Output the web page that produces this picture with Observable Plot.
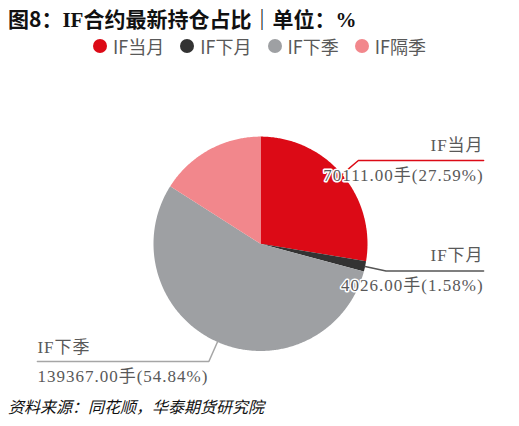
<!DOCTYPE html>
<html>
<head>
<meta charset="utf-8">
<script src="https://cdn.jsdelivr.net/npm/d3@7"></script>
<script src="https://cdn.jsdelivr.net/npm/@observablehq/plot@0.6"></script>
<style>
  html, body { margin: 0; padding: 0; background: #fff; }
  #wrap { position: relative; width: 519px; height: 426px; overflow: hidden; }
  #title { position: absolute; left: 8px; top: 3px; font-size: 21px; font-weight: bold; color: #111; white-space: nowrap; font-family: "Noto Sans CJK SC", sans-serif; }
  #title .s { font-family: "Liberation Serif", serif; }
  #legend { position: absolute; left: 0; top: 33px; width: 519px; display: flex; justify-content: center; align-items: center; font-family: "Noto Sans CJK SC", sans-serif; font-size: 18px; color: #595959; }
  #legend .item { display: flex; align-items: center; margin: 0 8px; }
  #legend .dot { width: 14px; height: 14px; border-radius: 50%; margin-right: 6px; }
  #chart { position: absolute; left: 0; top: 60px; }
  #caption { position: absolute; left: 8px; top: 394px; font-size: 16px; font-style: italic; color: #111; font-family: "Noto Sans CJK SC", sans-serif; white-space: nowrap; }
</style>
</head>
<body>
<div id="wrap">
  <div id="title">图8：<span class="s">IF</span>合约最新持仓占比｜单位：<span class="s">%</span></div>
  <div id="legend"></div>
  <div id="chart"></div>
  <div id="caption">资料来源：同花顺，华泰期货研究院</div>
</div>
<script>
// ---- data ----
const categories = ["IF当月", "IF下月", "IF下季", "IF隔季"];
const volumes = [70111, 4026, 139367, 40630];
const percents = [27.59, 1.58, 54.84, 15.99];
const colors = ["#DC0A16", "#333333", "#9EA0A3", "#F2878C"];
const showLabel = [true, true, true, false];
const leaderColors = ["#DC0A16", "#555555", "#A6A6A6", "#F2878C"];

// ---- legend ----
const legend = document.getElementById("legend");
categories.forEach((c, i) => {
  const item = document.createElement("div");
  item.className = "item";
  item.innerHTML = `<span class="dot" style="background:${colors[i]}"></span><span>${c}</span>`;
  legend.appendChild(item);
});

// ---- pie geometry (from data) ----
const arcs = d3.pie().sort(null).value(d => d)(percents);
const slicePts = [];
arcs.forEach((a, i) => {
  slicePts.push({cat: categories[i], x: 0, y: 0});
  const n = Math.max(2, Math.ceil((a.endAngle - a.startAngle) / 0.01));
  for (let k = 0; k <= n; k++) {
    const t = a.startAngle + (a.endAngle - a.startAngle) * k / n;
    slicePts.push({cat: categories[i], x: Math.sin(t), y: Math.cos(t)});
  }
});

const endX = 2.085, elbowR = 1.2;
const leaderPts = [];
const nameLabels = [];
const valueLabels = [];
arcs.forEach((a, i) => {
  if (!showLabel[i]) return;
  const m = (a.startAngle + a.endAngle) / 2;
  const sx = Math.sin(m), sy = Math.cos(m);
  const ex = elbowR * sx, ey = elbowR * sy;
  const side = sx >= 0 ? 1 : -1;
  leaderPts.push({cat: categories[i], x: 1.0 * sx, y: 1.0 * sy});
  leaderPts.push({cat: categories[i], x: ex, y: ey});
  leaderPts.push({cat: categories[i], x: side * endX, y: ey});
  const anchor = side > 0 ? "end" : "start";
  nameLabels.push({x: side * endX, y: ey, text: categories[i], anchor});
  valueLabels.push({x: side * endX, y: ey, text: `${volumes[i].toFixed(2)}手(${percents[i].toFixed(2)}%)`, anchor});
});

const labelFont = "Liberation Serif, Noto Sans CJK SC, serif";

const plot = Plot.plot({
  width: 519,
  height: 330,
  margin: 0,
  style: {letterSpacing: "1px", background: "transparent"},
  x: {domain: [-1, 1], range: [153, 367], axis: null},
  y: {domain: [-1, 1], range: [290.5, 76.1], axis: null},
  color: {domain: categories, range: colors},
  marks: [
    Plot.line(slicePts, {x: "x", y: "y", z: "cat", fill: "cat", stroke: "none", curve: "linear-closed"}),
    Plot.line(leaderPts, {x: "x", y: "y", z: "cat", stroke: d => leaderColors[categories.indexOf(d.cat)], strokeWidth: 1.5}),
    Plot.text(nameLabels.filter(d => d.anchor === "end"), {x: "x", y: "y", text: "text", textAnchor: "end", dy: -15, fill: "#595959", stroke: "white", strokeWidth: 3, paintOrder: "stroke", fontSize: 17, fontFamily: labelFont}),
    Plot.text(nameLabels.filter(d => d.anchor === "start"), {x: "x", y: "y", text: "text", textAnchor: "start", dy: -14, fill: "#595959", stroke: "white", strokeWidth: 3, paintOrder: "stroke", fontSize: 17, fontFamily: labelFont}),
    Plot.text(valueLabels.filter(d => d.anchor === "end"), {x: "x", y: "y", text: "text", textAnchor: "end", dy: 15, fill: "#595959", stroke: "white", strokeWidth: 3, paintOrder: "stroke", fontSize: 17, fontFamily: labelFont}),
    Plot.text(valueLabels.filter(d => d.anchor === "start"), {x: "x", y: "y", text: "text", textAnchor: "start", dy: 15, fill: "#595959", stroke: "white", strokeWidth: 3, paintOrder: "stroke", fontSize: 17, fontFamily: labelFont})
  ]
});
document.getElementById("chart").appendChild(plot);
</script>
</body>
</html>
